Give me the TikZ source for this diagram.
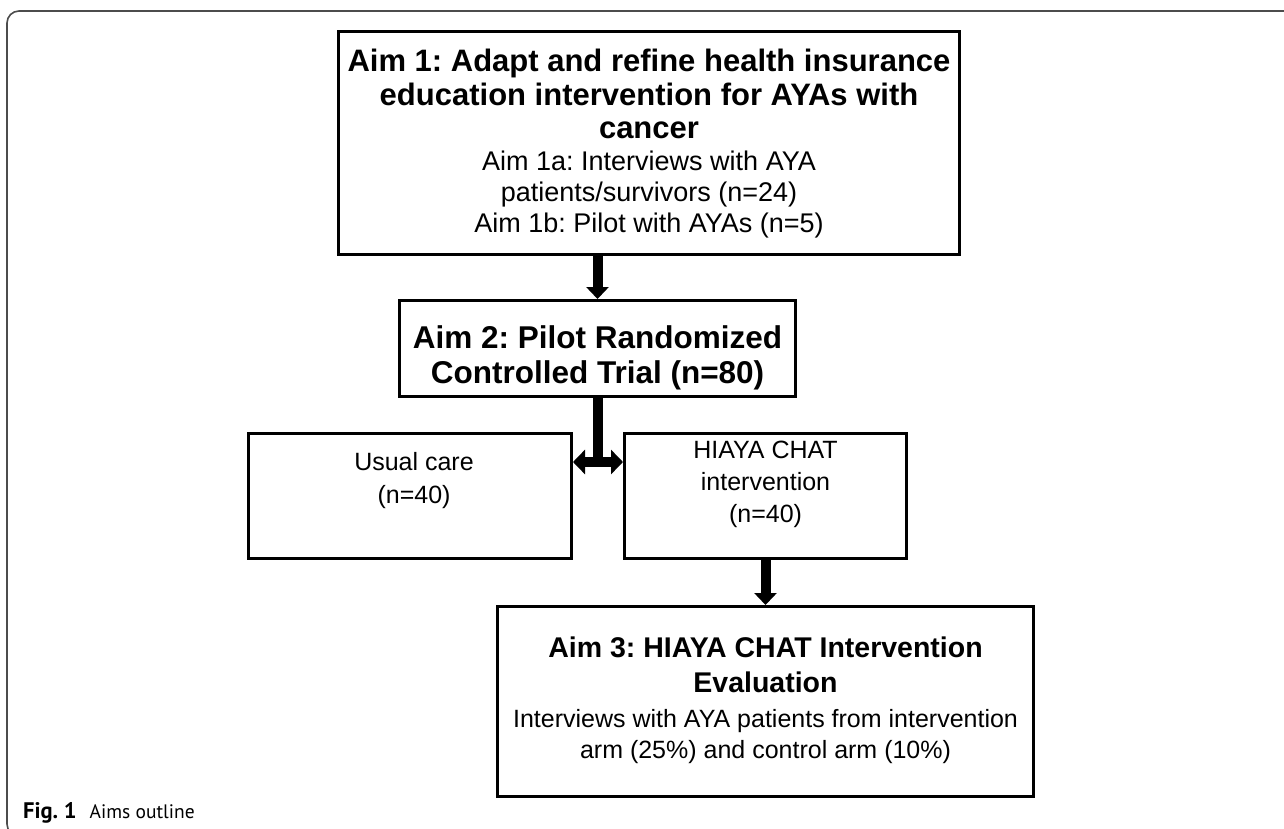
\documentclass[tikz,border=0pt]{standalone}
\usepackage{fontspec}
\setmainfont{Liberation Sans}
\newfontfamily\capfont{PT Sans}
\usetikzlibrary{arrows.meta}
\newcommand\bigb{\bfseries\fontsize{31}{31}\selectfont}
\newcommand\midb{\bfseries\fontsize{28.5}{31}\selectfont}
\frenchspacing
\begin{document}
\begin{tikzpicture}[x=1pt,y=-1pt,
  box/.style={draw=black, line width=3pt, inner sep=0pt},
  txt/.style={align=center, inner sep=0pt, font=\fontsize{25}{31}\selectfont},
  btxt/.style={align=center, inner sep=0pt, font=\bfseries\fontsize{31.5}{35}\selectfont},
  bigarrow/.style={line width=10pt, -{Triangle[width=22pt,length=12pt]}},
  dblarrow/.style={line width=10pt, {Triangle[width=24pt,length=12pt]}-{Triangle[width=24pt,length=12pt]}},
  frame/.style={draw=black!70, line width=1.6pt, rounded corners=12pt},
]
\useasboundingbox (0,0) rectangle (1284,829);
\draw[frame] (1290,11) -- (7,11) -- (7,836) -- (60,836);

% boxes
\node[box, minimum width=621pt, minimum height=223pt] (b1) at (649,143) {};
\node[box, minimum width=396pt, minimum height=96pt] (b2) at (597.5,348.5) {};
\node[box, minimum width=323pt, minimum height=125pt] (b3) at (410,496) {};
\node[box, minimum width=282pt, minimum height=125pt] (b4) at (765.5,496) {};
\node[box, minimum width=536pt, minimum height=190pt] (b5) at (765.5,701.5) {};

% texts
\node[txt, font=\fontsize{27}{31}\selectfont] (t1) at (649,144) {{\bigb Aim 1: Adapt and refine health insurance}\\[3pt]
{\bigb education intervention for AYAs with}\\[2pt]
{\bigb cancer}\\[1pt]
Aim 1a: Interviews with AYA\\
patients/survivors (n=24)\\
Aim 1b: Pilot with AYAs (n=5)};
\node[btxt] (t2) at (597.5,357.5) {Aim 2: Pilot Randomized\\Controlled Trial (n=80)};
\node[txt, font=\fontsize{25}{33}\selectfont] (t3) at (414,481) {Usual care\\(n=40)};
\node[txt, font=\fontsize{25}{32}\selectfont] (t4) at (765.5,484) {HIAYA CHAT\\intervention\\(n=40)};
\node[txt] (t5) at (765.5,700) {{\midb Aim 3: HIAYA CHAT Intervention}\\[4pt]
{\midb Evaluation}\\[4pt]
Interviews with AYA patients from intervention\\
arm (25\%) and control arm (10\%)};

% connectors
\coordinate (jy) at (0,462);
\coordinate (j) at (b2.south |- jy);
\draw[bigarrow] (b1.south -| b2.north) -- (b2.north);
\draw[line width=10pt] (b2.south) -- (j);
\draw[dblarrow] (b3.east |- j) -- (b4.west |- j);
\draw[bigarrow] (b4.south) -- (b4.south |- b5.north);

% caption
\node[anchor=base west, inner sep=0pt, font=\capfont\fontsize{19.5}{24}\selectfont] (cap) at (23,818) {{\bfseries\fontsize{22.5}{24}\selectfont Fig. 1}\hspace{13pt}Aims outline};
\end{tikzpicture}
\end{document}
